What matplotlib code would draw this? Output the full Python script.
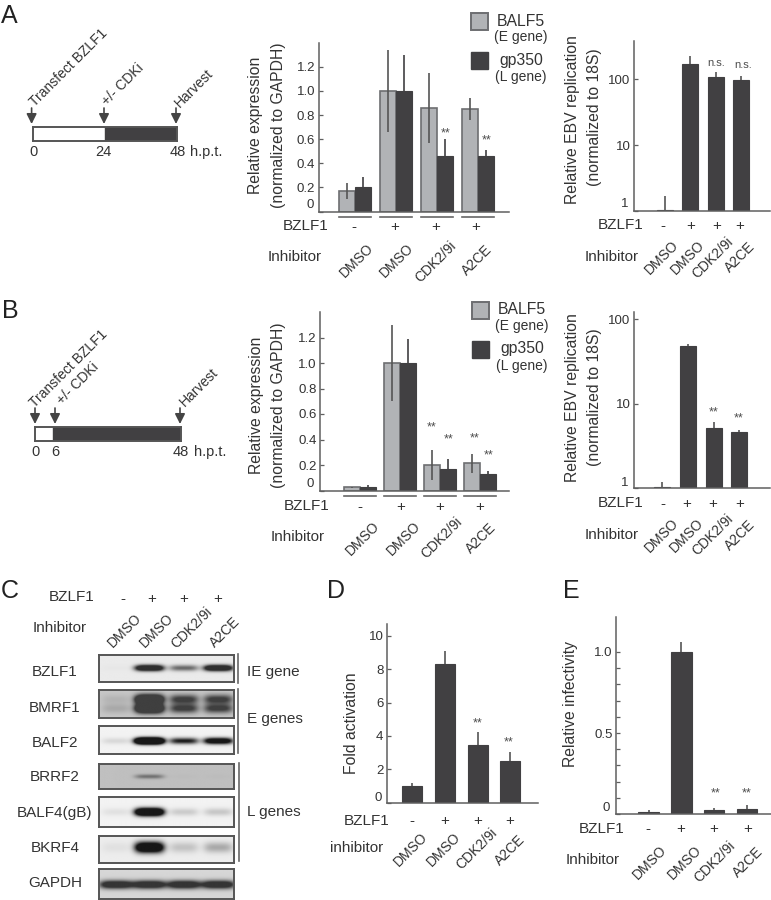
"""
Multi panel figure: BZLF1 time course, expression, replication, blots, activation, infectivity
"""

import numpy as np
import matplotlib
matplotlib.use('Agg')
import matplotlib.pyplot as plt
from matplotlib.patches import Rectangle
from matplotlib.ticker import NullLocator

W, H = 771, 900
DARK = '#414042'
LIGHT = '#b1b3b6'
EDGE = '#6d6e71'
AXIS = '#5f5f5f'
TEXT = '#333333'

plt.rcParams['font.family'] = ['Liberation Sans', 'DejaVu Sans']
plt.rcParams['text.color'] = TEXT

# shared labels
inhibitors = ['DMSO', 'DMSO', 'CDK2/9i', 'A2CE']
bzlf1_signs = ['-', '+', '+', '+']

# panel A, expression
a_balf5 = [0.17, 1.00, 0.86, 0.85]
a_balf5_err = [0.065, 0.34, 0.29, 0.09]
a_gp350 = [0.20, 1.00, 0.46, 0.46]
a_gp350_err = [0.09, 0.30, 0.14, 0.05]

# panel A, replication
a_rep = [1.03, 167, 106, 97]
a_rep_err = [0.66, 56, 23, 14]

# panel B, expression
b_balf5 = [0.025, 1.00, 0.20, 0.215]
b_balf5_err = [0.004, 0.30, 0.115, 0.075]
b_gp350 = [0.03, 1.00, 0.17, 0.13]
b_gp350_err = [0.012, 0.187, 0.08, 0.025]

# panel B, replication
b_rep = [1.03, 47.5, 5.13, 4.56]
b_rep_err = [0.15, 3.5, 0.91, 0.34]

# panel D
d_fold = [1.0, 8.3, 3.45, 2.5]
d_fold_err = [0.15, 0.8, 0.8, 0.55]

# panel E
e_inf = [0.015, 1.0, 0.027, 0.029]
e_inf_err = [0.01, 0.06, 0.01, 0.029]

# time courses
a_hours = [0, 24, 48]
b_hours = [0, 6, 48]
course_names = ['Transfect BZLF1', '+/- CDKi', 'Harvest']

# blots: band strength per lane, one list per band in the row
blot_names = ['BZLF1', 'BMRF1', 'BALF2', 'BRRF2', 'BALF4(gB)', 'BKRF4', 'GAPDH']
blot_background = [0.92, 0.78, 0.95, 0.75, 0.95, 0.93, 0.84]
blot_band_y = [[0.50], [0.33, 0.66], [0.55], [0.50], [0.50], [0.42], [0.52]]
blot_band_h = [0.11, 0.17, 0.11, 0.09, 0.13, 0.20, 0.14]
blot_strength = [
    [[0.02, 1.80, 0.70, 1.80]],
    [[0.14, 2.50, 1.10, 1.10], [0.22, 2.50, 1.10, 1.10]],
    [[0.12, 3.00, 1.00, 1.50]],
    [[0.00, 0.75, 0.03, 0.03]],
    [[0.08, 2.20, 0.18, 0.20]],
    [[0.06, 1.80, 0.20, 0.32]],
    [[1.50, 1.50, 1.50, 1.50]],
]
blot_dark = [0.80, 0.68, 0.90, 0.55, 0.90, 0.90, 0.75]
blot_label_y = [672, 708, 743, 777, 813, 848, 883]

fig = plt.figure(figsize=(W / 100, H / 100), dpi=100)


def make_axes(left, top, right, bottom):
    return fig.add_axes([left / W, 1 - bottom / H, (right - left) / W, (bottom - top) / H])


overlay = make_axes(0, 0, W, H)
overlay.set_xlim(0, W)
overlay.set_ylim(H, 0)
overlay.axis('off')
overlay.set_zorder(10)
overlay.patch.set_alpha(0)


def txt(x, y, s, size=11, ha='center', rot=0, **kw):
    overlay.text(x, y, s, fontsize=size, ha=ha, va='center', rotation=rot, **kw)


def style_axes(ax, left, right, x0, spacing):
    ax.set_xlim((left - x0) / spacing, (right - x0) / spacing)
    ax.spines['top'].set_visible(False)
    ax.spines['right'].set_visible(False)
    for side in ['left', 'bottom']:
        ax.spines[side].set_color(AXIS)
        ax.spines[side].set_linewidth(1.1)
    ax.set_xticks([])
    ax.patch.set_alpha(0)
    ax.tick_params(axis='y', which='both', direction='in', length=3, width=0.9,
                   color=AXIS, labelsize=9.5, labelcolor=TEXT, pad=2.5)


def grouped_panel(rect, x0, spacing, width, zero_y, unit, balf5, balf5_err, gp350, gp350_err):
    left, top, right, bottom = rect
    ax = make_axes(*rect)
    style_axes(ax, left, right, x0, spacing)
    ax.set_ylim((zero_y - bottom) / unit, (zero_y - top) / unit)
    x = np.arange(4)
    w = width / spacing
    ax.bar(x - w / 2, balf5, w, color=LIGHT, edgecolor=EDGE, linewidth=1.2)
    ax.bar(x + w / 2, gp350, w, color=DARK, edgecolor=DARK, linewidth=0.8)
    ax.errorbar(x - w / 2, balf5, yerr=balf5_err, fmt='none', ecolor='#555555', elinewidth=1.2)
    ax.errorbar(x + w / 2, gp350, yerr=gp350_err, fmt='none', ecolor=DARK, elinewidth=1.2)
    ax.set_yticks([0, 0.2, 0.4, 0.6, 0.8, 1.0, 1.2])
    ax.set_yticklabels(['', '0.2', '0.4', '0.6', '0.8', '1.0', '1.2'])
    # group underlines below the axis
    drop = -5 / (bottom - top)
    for i in x:
        ax.plot([i - w, i + w], [drop, drop], color='#666666', lw=1.2, clip_on=False,
                transform=ax.get_xaxis_transform())
    return ax


def log_panel(rect, x0, spacing, width, decade, values, errs):
    left, top, right, bottom = rect
    ax = make_axes(*rect)
    style_axes(ax, left, right, x0, spacing)
    ax.set_yscale('log')
    ax.set_ylim(1, 10 ** ((bottom - top) / decade))
    x = np.arange(4)
    ax.bar(x, np.array(values) - 1, width / spacing, bottom=1, color=DARK, edgecolor=DARK, linewidth=0.8)
    ax.errorbar(x, values, yerr=[np.zeros(4), errs], fmt='none', ecolor='#555555', elinewidth=1.2)
    ax.set_yticks([1, 10, 100])
    ax.set_yticklabels(['', '10', '100'])
    ax.yaxis.set_minor_locator(NullLocator())
    return ax


def single_panel(rect, x0, spacing, width, zero_y, unit, values, errs):
    left, top, right, bottom = rect
    ax = make_axes(*rect)
    style_axes(ax, left, right, x0, spacing)
    ax.set_ylim((zero_y - bottom) / unit, (zero_y - top) / unit)
    x = np.arange(4)
    ax.bar(x, values, width / spacing, color=DARK, edgecolor=DARK, linewidth=0.8)
    ax.errorbar(x, values, yerr=[np.zeros(4), errs], fmt='none', ecolor='#555555', elinewidth=1.2)
    return ax


def timeline(left, right, box_top, box_bottom, hours, name_xy, unit_x, label_x, arrow_x):
    """Time course bar with arrows on top, scaled in hours"""
    ax = make_axes(left, box_top, right, box_bottom)
    ax.set_xlim(hours[0], hours[-1])
    ax.set_ylim(0, 1)
    ax.set_xticks([])
    ax.set_yticks([])
    for s in ax.spines.values():
        s.set_color('#555555')
        s.set_linewidth(1.4)
    ax.add_patch(Rectangle((hours[1], 0), hours[2] - hours[1], 1, color=DARK))
    for h, lx in zip(hours, label_x):
        txt(lx, box_bottom + 11, str(h), size=10.5)
    txt(unit_x, box_bottom + 11, 'h.p.t.', size=10.5, ha='left')
    for ax_x in arrow_x:
        overlay.annotate('', xy=(ax_x, box_top - 3), xytext=(ax_x, box_top - 19),
                         arrowprops=dict(arrowstyle='-|>,head_width=0.3,head_length=0.6',
                                         color='#444444', lw=1.2, shrinkA=0, shrinkB=0))
    for (nx, ny), name in zip(name_xy, course_names):
        txt(nx, ny, name, size=10, rot=45)


def row_labels(signs_xy, inh_label, inh_xy, name_xy, bz_xy, size=10):
    txt(bz_xy[0], bz_xy[1], 'BZLF1', size=11)
    txt(inh_xy[0], inh_xy[1], inh_label, size=11)
    for s, x in zip(bzlf1_signs, signs_xy[0]):
        txt(x, signs_xy[1], s, size=11)
    for name, (x, y) in zip(inhibitors, name_xy):
        txt(x, y, name, size=size, rot=45)


def stars(points):
    for x, y in points:
        txt(x, y, '**', size=9, color='#4d4d4d')


def legend(sq_left, sq_right, y1, y2, y3, y4, text_x):
    h = 17
    overlay.add_patch(Rectangle((sq_left, y1 - h / 2), sq_right - sq_left, h,
                                facecolor=LIGHT, edgecolor=EDGE, lw=1.4))
    overlay.add_patch(Rectangle((sq_left, y3 - h / 2), sq_right - sq_left, h,
                                facecolor=DARK, edgecolor=DARK, lw=1))
    txt(text_x, y1, 'BALF5', size=11.3)
    txt(text_x, y2, '(E gene)', size=10)
    txt(text_x, y3, 'gp350', size=11.3)
    txt(text_x, y4, '(L gene)', size=10)


# panel letters
for letter, x, y in [('A', 9, 16), ('B', 10, 311), ('C', 10, 591), ('D', 336, 591), ('E', 571, 591)]:
    txt(x, y, letter, size=18, color='#222222')

# panel A
timeline(33, 177, 127, 141, a_hours, [(69, 68), (123, 85), (194.5, 88)],
         190, [33, 103, 178], [31.6, 104, 176])
grouped_panel((318.5, 43, 509, 211.5), 354.5, 41.2, 16, 211.5, 120.5,
              a_balf5, a_balf5_err, a_gp350, a_gp350_err)
txt(255.5, 125, 'Relative expression', size=11.3, rot=90)
txt(278, 125, '(normalized to GAPDH)', size=11.3, rot=90)
txt(314, 205, '0', size=9.5, ha='right')
row_labels(([353.5, 395, 436, 476], 227), 'Inhibitor', (295, 257),
           [(357, 260), (397, 260), (436, 262), (477, 260)], (306, 226))
stars([(446, 133), (487, 140)])
legend(471, 488, 21, 37, 60, 77, 521)

log_panel((634, 41, 770, 211), 664.5, 25.5, 16, 66, a_rep, a_rep_err)
txt(573, 120, 'Relative EBV replication', size=11.3, rot=90)
txt(595, 117, '(normalized to 18S)', size=11.3, rot=90)
txt(628, 204, '1', size=9.5, ha='right')
row_labels(([663, 691, 717, 740], 226), 'Inhibitor', (612, 257),
           [(662, 257), (688, 257), (713, 258), (740, 257)], (621, 225))
txt(716, 63, 'n.s.', size=8, color='#4d4d4d')
txt(743, 65, 'n.s.', size=8, color='#4d4d4d')

# panel B
timeline(35, 180.5, 427, 441, b_hours, [(69, 369), (77.5, 384), (199, 387.5)],
         194, [36, 55.6, 181], [35, 55, 180])
grouped_panel((320, 312, 509, 491), 360.4, 39.9, 16, 490.5, 127.5,
              b_balf5, b_balf5_err, b_gp350, b_gp350_err)
txt(256, 405, 'Relative expression', size=11.3, rot=90)
txt(278, 405, '(normalized to GAPDH)', size=11.3, rot=90)
txt(314, 484, '0', size=9.5, ha='right')
row_labels(([360, 401, 440, 480], 507), 'Inhibitor', (298, 537),
           [(362.5, 538), (404, 538), (441.5, 538), (481, 538)], (307, 506))
stars([(432, 427), (449, 439), (474.5, 438), (488.5, 455)])
legend(472, 489, 310, 326, 349, 366, 522)

log_panel((634, 312, 770, 488), 662, 25.8, 16, 84.5, b_rep, b_rep_err)
txt(573, 398, 'Relative EBV replication', size=11.3, rot=90)
txt(595, 397, '(normalized to 18S)', size=11.3, rot=90)
txt(628, 483, '1', size=9.5, ha='right')
row_labels(([663, 687, 713, 740], 504), 'Inhibitor', (612, 535),
           [(662, 535), (687, 535), (713, 535), (740, 535)], (621, 503))
stars([(714, 412), (739, 418)])

# panel C
blot_tops = [655, 690, 726, 764, 797, 836, 869]
blot_bottoms = [682, 718, 754, 789, 827, 863, 899]
lane_centers = [0.127, 0.373, 0.63, 0.885]
for i, name in enumerate(blot_names):
    ax = make_axes(99, blot_tops[i], 233.5, blot_bottoms[i])
    xx, yy = np.meshgrid(np.linspace(0, 1, 200), np.linspace(0, 1, 60))
    total = np.zeros(xx.shape)
    lane_w = 0.125 if name == 'GAPDH' else 0.108
    for band_y, strengths in zip(blot_band_y[i], blot_strength[i]):
        for lane, s in zip(lane_centers, strengths):
            total += s * np.exp(-((xx - lane) / lane_w) ** 4) * np.exp(-((yy - band_y) / blot_band_h[i]) ** 2)
    img = blot_background[i] * (1 - blot_dark[i] * np.clip(total, 0, 1))
    ax.imshow(img, cmap='gray', vmin=0, vmax=1, aspect='auto', extent=(0, 1, 1, 0))
    ax.set_xticks([])
    ax.set_yticks([])
    for s in ax.spines.values():
        s.set_color('#555555')
        s.set_linewidth(1.4)
    txt(55, blot_label_y[i], name)

row_labels(([123, 152, 184, 218], 599), 'Inhibitor', (60, 628),
           [(125, 630), (157, 630), (192, 628), (225, 632)], (72, 597))
for x, y0, y1 in [(238, 654, 683), (238, 689, 753), (239, 763, 861)]:
    overlay.plot([x, x], [y0, y1], color='#666666', lw=1.2)
txt(247, 672, 'IE gene', ha='left')
txt(247, 719, 'E genes', ha='left')
txt(247, 812, 'L genes', ha='left')

# panel D
ax_d = single_panel((387, 624, 538, 803), 412, 32.8, 20, 802.5, 16.65, d_fold, d_fold_err)
ax_d.set_yticks([0, 2, 4, 6, 8, 10])
ax_d.set_yticklabels(['', '2', '4', '6', '8', '10'])
txt(352, 723, 'Fold activation', size=11.3, rot=90)
txt(378, 798, '0', size=9.5)
row_labels(([412, 445, 478, 510], 821), 'inhibitor', (357, 848),
           [(411, 849), (444, 849), (477, 849), (510, 850)], (367, 821))
stars([(478, 723), (509, 742)])

# panel E
ax_e = single_panel((616, 617, 771, 814), 648.5, 32.8, 20.5, 814, 162, e_inf, e_inf_err)
ax_e.set_yticks([0, 0.5, 1.0])
ax_e.set_yticklabels(['', '0.5', '1.0'])
ax_e.set_yticks(np.arange(0.1, 1.01, 0.1), minor=True)
txt(571, 704, 'Relative infectivity', size=11.3, rot=90)
txt(606, 808, '0', size=9.5)
row_labels(([648, 681, 714, 748], 829), 'Inhibitor', (593, 860),
           [(650, 862), (685, 862), (715, 862), (748, 862)], (602, 829))
stars([(716, 793), (747, 793)])

fig.savefig('out.png', dpi=100)
